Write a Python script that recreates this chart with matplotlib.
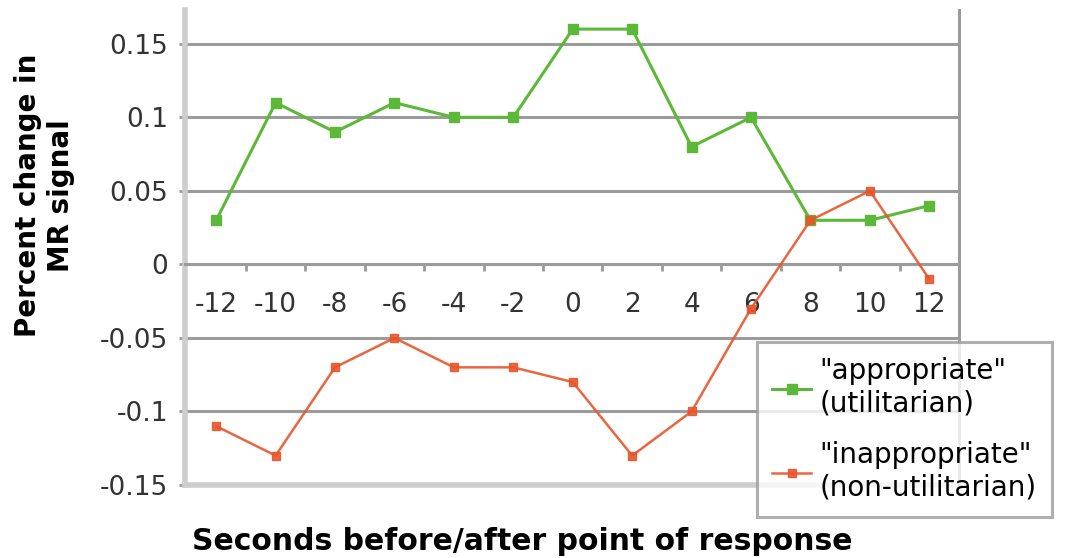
import matplotlib.pyplot as plt
import numpy as np

# seconds relative to response
seconds = [-12, -10, -8, -6, -4, -2, 0, 2, 4, 6, 8, 10, 12]
appropriate = [0.03, 0.11, 0.09, 0.11, 0.10, 0.10, 0.16, 0.16, 0.08, 0.10, 0.03, 0.03, 0.04]
inappropriate = [-0.11, -0.13, -0.07, -0.05, -0.07, -0.07, -0.08, -0.13, -0.10, -0.03, 0.03, 0.05, -0.01]
labels = ['"appropriate"\n(utilitarian)', '"inappropriate"\n(non-utilitarian)']
yticks = [-0.15, -0.1, -0.05, 0, 0.05, 0.1, 0.15]
ytick_labels = ['-0.15', '-0.1', '-0.05', '0', '0.05', '0.1', '0.15']

green = '#5cb838'
orange = '#e8552b'
grid_col = '#9b9b9b'
light = '#cdcdcd'

fig = plt.figure(figsize=(10.68, 5.58), dpi=100)
ax = fig.add_axes([185/1068, 1 - 485/558, (959 - 185)/1068, (485 - 10)/558])

ax.plot(seconds, appropriate, color=green, lw=2.2, marker='s', ms=7, label=labels[0], zorder=4)
ax.plot(seconds, inappropriate, color=orange, lw=1.8, marker='s', ms=6, alpha=0.9, label=labels[1], zorder=4)

ax.set_xlim(-13.05, 13.0)
ax.set_ylim(-0.15, 0.173)

# horizontal gridlines
for y in yticks[1:]:
    ax.axhline(y, color=grid_col, lw=2.2, zorder=1)
ax.axhline(-0.15, color=light, lw=4, zorder=1, clip_on=False)

ax.set_yticks(yticks)
ax.set_yticklabels(ytick_labels)
ax.tick_params(axis='y', length=4, width=2, color=grid_col, pad=8, labelsize=19, labelcolor='#333333')

# category axis sits on the zero line
ax.spines['bottom'].set_position(('data', 0))
ax.spines['bottom'].set_color(grid_col)
ax.spines['bottom'].set_linewidth(2.2)
ax.set_xticks(np.arange(-11, 12, 2))
ax.set_xticklabels([])
ax.set_xticks(seconds, minor=True)
ax.set_xticklabels([str(s) for s in seconds], minor=True)
ax.tick_params(axis='x', which='major', direction='out', length=5, width=2, color=grid_col)
ax.tick_params(axis='x', which='minor', length=0, pad=20, labelsize=19, labelcolor='#333333')

ax.spines['top'].set_visible(False)
ax.spines['left'].set_color(light)
ax.spines['left'].set_linewidth(4)
ax.spines['right'].set_color(grid_col)
ax.spines['right'].set_linewidth(2.2)

ax.set_ylabel('Percent change in\nMR signal', fontsize=20, fontweight='bold', linespacing=1.25)
ax.yaxis.set_label_coords(-0.142, 0.61)
fig.text(192/1068, 1 - 541/558, 'Seconds before/after point of response', fontsize=21.5,
         fontweight='bold', ha='left', va='center')

leg = fig.legend(loc='upper left', bbox_to_anchor=(757/1068, 1 - 342/558), fontsize=20,
                 frameon=True, fancybox=False, borderpad=0.55, labelspacing=0.85,
                 handlelength=1.4, handletextpad=0.3, borderaxespad=0)
leg.get_frame().set_edgecolor(grid_col)
leg.get_frame().set_linewidth(2.2)
leg.set_zorder(10)

fig.savefig('out.png', dpi=100)
